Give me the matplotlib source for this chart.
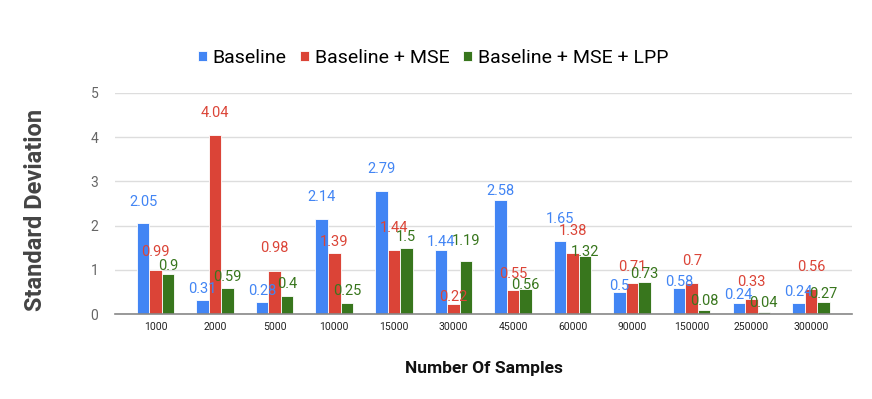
import numpy as np
import matplotlib
matplotlib.use("Agg")
import matplotlib.pyplot as plt

plt.rcParams['font.family'] = ['Roboto', 'DejaVu Sans']

# data
samples = ["1000", "2000", "5000", "10000", "15000", "30000",
           "45000", "60000", "90000", "150000", "250000", "300000"]
baseline = [2.05, 0.31, 0.28, 2.14, 2.79, 1.44, 2.58, 1.65, 0.5, 0.58, 0.24, 0.24]
baseline_mse = [0.99, 4.04, 0.98, 1.39, 1.44, 0.22, 0.55, 1.38, 0.71, 0.7, 0.33, 0.56]
baseline_mse_lpp = [0.9, 0.59, 0.4, 0.25, 1.5, 1.19, 0.56, 1.32, 0.73, 0.08, 0.04, 0.27]
series_names = ["Baseline", "Baseline + MSE", "Baseline + MSE + LPP"]

# how far each value label sits above its bar (data units), as in the reference
lift_blue = [0.49, 0.25, 0.25, 0.5, 0.48, 0.2, 0.2, 0.5, 0.14, 0.15, 0.19, 0.26]
lift_red = [0.41, 0.5, 0.51, 0.23, 0.5, 0.17, 0.35, 0.5, 0.35, 0.51, 0.4, 0.5]
lift_green = [0.19, 0.25, 0.28, 0.26, 0.25, 0.46, 0.1, 0.08, 0.17, 0.21, 0.22, 0.18]

colors = ["#4285F4", "#DB4437", "#38761D"]

fig = plt.figure(figsize=(8.72, 3.99), dpi=100)
ax = fig.add_axes([115 / 872, 1 - 314 / 399, 737 / 872, 221 / 399])

x = np.arange(len(samples))
w = 0.21
all_series = [baseline, baseline_mse, baseline_mse_lpp]
all_lifts = [lift_blue, lift_red, lift_green]
for i, (vals, lifts) in enumerate(zip(all_series, all_lifts)):
    pos = x + (i - 1) * w
    ax.bar(pos, vals, width=w, color=colors[i], edgecolor="white",
           linewidth=0.6, label=series_names[i], zorder=3)
    for p, v, l in zip(pos, vals, lifts):
        ax.text(p, v + l, f"{v:g}", ha="center", va="center",
                color=colors[i], fontsize=10.5, zorder=4)

ax.set_xlim(-0.68, 11.69)
ax.set_ylim(0, 5)
ax.set_yticks(range(6))
ax.set_xticks(x)
ax.set_xticklabels(samples, fontsize=7.5, color="#222222")
ax.tick_params(axis="y", labelsize=10, labelcolor="#666666", length=0, pad=12)
ax.tick_params(axis="x", length=0, pad=6)
ax.grid(axis="y", color="#dddddd", linewidth=1, zorder=0)
for s in ["top", "right", "left"]:
    ax.spines[s].set_visible(False)
ax.spines["bottom"].set_color("#888888")
ax.spines["bottom"].set_linewidth(1.2)
ax.spines["bottom"].set_zorder(5)

fig.text(35 / 872, 1 - 210 / 399, "Standard Deviation", rotation=90,
         ha="center", va="center", fontsize=17, fontweight="bold", color="#444444")
fig.text(484 / 872, 1 - 368 / 399, "Number Of Samples", ha="center", va="center",
         fontsize=12.5, fontweight="bold", color="#111111")

fig.legend(loc="center", bbox_to_anchor=(433 / 872, 1 - 58 / 399), ncol=3,
           frameon=False, fontsize=14, handlelength=0.45, handleheight=0.45,
           handletextpad=0.3, columnspacing=0.7)

fig.savefig("out.png", dpi=100)
